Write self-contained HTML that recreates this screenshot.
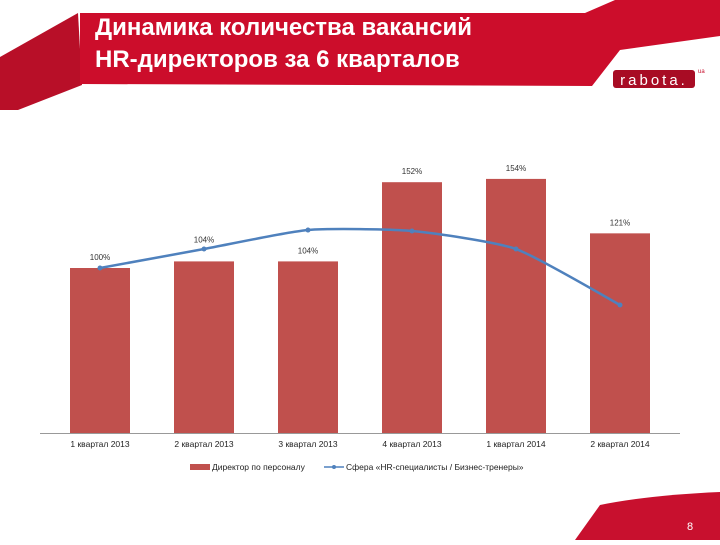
<!DOCTYPE html>
<html><head><meta charset="utf-8"><style>
body{margin:0;width:720px;height:540px;overflow:hidden;background:#fff;font-family:"Liberation Sans","DejaVu Sans",sans-serif}
</style></head><body>
<svg width="720" height="540">
<g>
<polygon points="0,57 78,13 82,85 18,110 0,110" fill="#b80f28"/>
<polygon points="80,13 585,13 615,0 720,0 720,36 620,50 592,86 80,84" fill="#cc0d2b"/>
<text x="95" y="35" fill="#fff" font-size="24" font-weight="bold">Динамика количества вакансий</text>
<text x="95" y="67" fill="#fff" font-size="24" font-weight="bold">HR-директоров за 6 кварталов</text>
<rect x="613" y="70" width="82" height="18" rx="3" fill="#a80c24"/>
<text x="654" y="85" fill="#fff" font-size="15" text-anchor="middle" letter-spacing="3">rabota.</text>
<text x="698" y="73" fill="#c8102e" font-size="6">ua</text>
</g>
<path d="M575,540 L600,505 Q650,495 720,492 L720,540 Z" fill="#c8102e"/>
<text x="690" y="530" fill="#fff" font-size="11" text-anchor="middle">8</text>
<g id="chart"></g>
</svg>
<script>
const categories=["1 квартал 2013","2 квартал 2013","3 квартал 2013","4 квартал 2013","1 квартал 2014","2 квартал 2014"];
const barValues=[100,104,104,152,154,121];
const barLabels=["100%","104%","104%","152%","154%","121%"];
const lineValues=[100,111.5,123,122.4,111.5,77.6];
const NS="http://www.w3.org/2000/svg";
const g=document.getElementById('chart');
const baseY=433,scale=1.65,x0=100,step=104,bw=60;
const xp=i=>x0+i*step, yp=v=>baseY-v*scale;
function mk(t,a){const e=document.createElementNS(NS,t);for(const k in a)e.setAttribute(k,a[k]);g.appendChild(e);return e;}
barValues.forEach((v,i)=>{
 const r=mk('rect',{x:xp(i)-bw/2,y:yp(v),width:bw,height:v*scale,fill:'#c0504d'});
 
 
});
const ax=mk('line',{x1:40,x2:680,y1:baseY+0.5,y2:baseY+0.5,stroke:'#999','stroke-width':1});


const pts=lineValues.map((v,i)=>[xp(i),yp(v)]);
let d='M'+pts[0].join(',');
for(let i=0;i<pts.length-1;i++){
 const p0=pts[Math.max(0,i-1)],p1=pts[i],p2=pts[i+1],p3=pts[Math.min(pts.length-1,i+2)];
 const k=10;
 const c1=[p1[0]+(p2[0]-p0[0])/k,p1[1]+(p2[1]-p0[1])/k],c2=[p2[0]-(p3[0]-p1[0])/k,p2[1]-(p3[1]-p1[1])/k];
 d+=` C${c1} ${c2} ${p2}`;
}
const ln=mk('path',{d:d,fill:'none',stroke:'#4f81bd','stroke-width':2.5});


pts.forEach((p,i)=>{
 const m=mk('circle',{cx:p[0],cy:p[1],r:2.5,fill:'#4f81bd'});
 
 
});
barValues.forEach((v,i)=>{
 let y=yp(v)-8; if(i==1)y=yp(v)-19;
 const t=mk('text',{x:xp(i),y:y,'font-size':8,'text-anchor':'middle',fill:'#333'});
 t.textContent=barLabels[i];
 
 
});
categories.forEach((c,i)=>{
 const t=mk('text',{x:xp(i),y:447,'font-size':8.5,'text-anchor':'middle',fill:'#222'});
 t.textContent=c;
 
 
});
const s1=mk('rect',{x:190,y:464,width:20,height:6,fill:'#c0504d'});


const t1=mk('text',{x:212,y:470,'font-size':8.5,fill:'#222'});t1.textContent='Директор по персоналу';


const s2=mk('line',{x1:324,x2:344,y1:467,y2:467,stroke:'#4f81bd','stroke-width':1.5});


mk('circle',{cx:334,cy:467,r:2,fill:'#4f81bd'});
const t2=mk('text',{x:346,y:470,'font-size':8.5,fill:'#222'});t2.textContent='Сфера «HR-специалисты / Бизнес-тренеры»';


</script>
</body></html>
